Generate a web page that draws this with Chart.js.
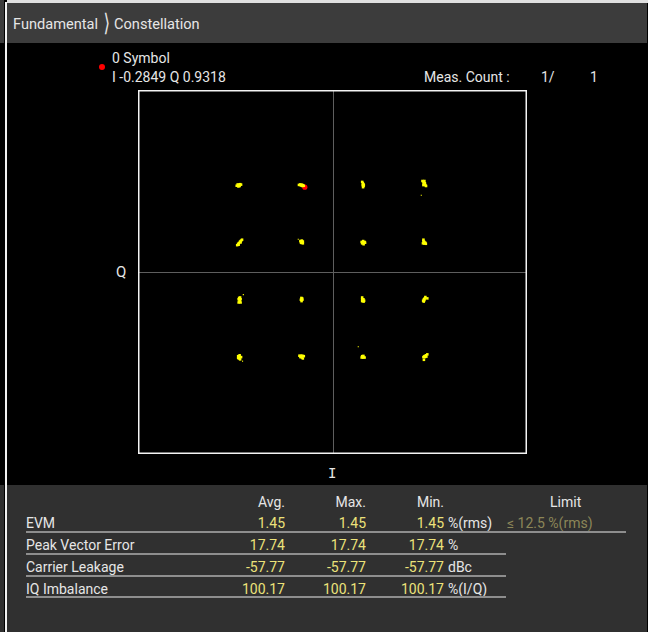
<!DOCTYPE html>
<html lang="en">
<head>
  <meta charset="UTF-8" />
  <title>Constellation</title>
  <script src="https://cdn.jsdelivr.net/npm/chart.js"></script>
  <style>
    * {
      margin: 0;
      padding: 0;
      box-sizing: border-box;
    }

    body {
      width: 648px;
      height: 632px;
      overflow: hidden;
      position: relative;
      background: #000;
      color: #e6e6e6;
      font-family: Roboto, 'Noto Sans', sans-serif;
      font-size: 14px;
    }

    .abs {
      position: absolute;
      white-space: nowrap;
      line-height: 16px;
    }

    .strip-top { left: 0; top: 0; width: 4px; height: 43px; background: #3c3c3c; }
    .strip-bot { left: 0; top: 485px; width: 4px; height: 147px; background: #303030; }
    .edge { left: 5px; top: 2px; width: 2px; height: 630px; background: #f2f2f2; }
    .topline { left: 7px; top: 0; width: 641px; height: 3px; background: #e0e0e0; }
    header { position: absolute; left: 7px; top: 3px; width: 640px; height: 40px; background: #3c3c3c; }
    .panel { position: absolute; left: 7px; top: 485px; width: 640px; height: 147px; background: #303030; }

    #iq { position: absolute; left: 0; top: 0; z-index: 2; }

    .val { color: #ece27a; }
    .lim { color: #8c8658; }
    .rule { position: absolute; height: 2px; background: #8e8e8e; }
    .dot { position: absolute; left: 99px; top: 64px; width: 6px; height: 6px; border-radius: 50%; background: #ff0000; }
  </style>
</head>
<body>

  <div class="abs strip-top"></div>
  <div class="abs strip-bot"></div>
  <div class="abs topline"></div>
  <header></header>
  <div class="panel"></div>
  <div class="abs edge"></div>

  <!-- breadcrumb -->
  <div class="abs" style="left:13px; top:16px; font-size:14.6px;">Fundamental</div>
  <div class="abs" style="left:102px; top:10px; font-size:24px; line-height:26px; font-family:'DejaVu Sans'; transform:scaleX(0.7);">&#10217;</div>
  <div class="abs" style="left:114px; top:16px; font-size:14.6px;">Constellation</div>

  <!-- marker readout -->
  <div class="dot"></div>
  <div class="abs" style="left:112px; top:50px;">0 Symbol</div>
  <div class="abs" id="markerText" style="left:112px; top:69px;"></div>
  <div class="abs" style="left:424px; top:69px;">Meas. Count :</div>
  <div class="abs" style="left:541px; top:69px;">1/</div>
  <div class="abs" style="left:590px; top:69px;">1</div>

  <div class="abs" style="left:116px; top:264px; font-size:15px;">Q</div>
  <div class="abs" style="left:328px; top:465px; font-size:14px; font-family:'DejaVu Sans Mono';">I</div>

  <div id="table"></div>

  <canvas id="iq" width="648" height="632"></canvas>

  <script>
    // symbol clusters, [I, Q]
    const row1Points = [
      [-0.985, 0.948], [-0.975, 0.962], [-0.962, 0.958], [-0.950, 0.965], [-0.940, 0.960], [-0.955, 0.945], [-0.968, 0.940],
      [-0.345, 0.957], [-0.332, 0.962], [-0.318, 0.960], [-0.305, 0.955], [-0.325, 0.950], [-0.295, 0.948], [-0.310, 0.945],
      [0.305, 0.990], [0.312, 0.978], [0.318, 0.965], [0.310, 0.955], [0.320, 0.945], [0.314, 0.932], [0.322, 0.955],
      [0.925, 1.000], [0.945, 1.000], [0.935, 0.985], [0.950, 0.975], [0.940, 0.965], [0.955, 0.955], [0.962, 0.945], [0.935, 0.955]
    ];
    const row2Points = [
      [-0.980, 0.295], [-0.970, 0.310], [-0.960, 0.320], [-0.950, 0.335], [-0.940, 0.345], [-0.930, 0.355], [-0.965, 0.300], [-0.945, 0.325],
      [-0.330, 0.340], [-0.315, 0.345], [-0.305, 0.335], [-0.320, 0.320], [-0.305, 0.315], [-0.325, 0.325],
      [0.300, 0.330], [0.315, 0.340], [0.330, 0.330], [0.315, 0.320], [0.320, 0.305], [0.305, 0.315], [0.335, 0.322],
      [0.935, 0.355], [0.935, 0.340], [0.945, 0.330], [0.955, 0.320], [0.930, 0.315], [0.960, 0.310], [0.945, 0.312]
    ];
    const row3Points = [
      [-0.960, -0.285], [-0.950, -0.280], [-0.965, -0.300], [-0.945, -0.300], [-0.955, -0.315], [-0.965, -0.335], [-0.945, -0.335], [-0.955, -0.325],
      [-0.320, -0.285], [-0.312, -0.290], [-0.325, -0.305], [-0.310, -0.305], [-0.318, -0.320],
      [0.305, -0.280], [0.305, -0.300], [0.305, -0.320], [0.318, -0.300], [0.325, -0.315], [0.320, -0.325],
      [0.955, -0.275], [0.948, -0.290], [0.940, -0.300], [0.932, -0.315], [0.945, -0.310], [0.938, -0.325], [0.975, -0.290]
    ];
    const row4Points = [
      [-0.970, -0.925], [-0.955, -0.915], [-0.955, -0.935], [-0.940, -0.935], [-0.960, -0.950], [-0.950, -0.960], [-0.970, -0.945],
      [-0.340, -0.920], [-0.325, -0.920], [-0.310, -0.920], [-0.295, -0.925], [-0.330, -0.935], [-0.315, -0.940], [-0.305, -0.950],
      [0.305, -0.925], [0.318, -0.922], [0.300, -0.940], [0.315, -0.940], [0.330, -0.940],
      [0.975, -0.905], [0.960, -0.915], [0.945, -0.925], [0.935, -0.935], [0.950, -0.935], [0.965, -0.930], [0.940, -0.965]
    ];
    const strayPoints = [[0.913, 0.843], [-0.352, 0.360], [-0.917, -0.249], [-0.925, -0.980], [0.265, -0.821]];
    const markerPoint = [-0.2849, 0.9318];
    const axisRange = [-2, 2];

    // result table
    const metricNames = ['EVM', 'Peak Vector Error', 'Carrier Leakage', 'IQ Imbalance'];
    const avgValues = ['1.45', '17.74', '-57.77', '100.17'];
    const maxValues = ['1.45', '17.74', '-57.77', '100.17'];
    const minValues = ['1.45', '17.74', '-57.77', '100.17'];
    const unitLabels = ['%(rms)', '%', 'dBc', '%(I/Q)'];
    const limitLabels = ['\u2264 12.5 %(rms)', '', '', ''];
    const columnHeads = ['Avg.', 'Max.', 'Min.'];

    document.getElementById('markerText').textContent =
      'I ' + markerPoint[0].toFixed(4) + ' Q ' + markerPoint[1].toFixed(4);

    // build table
    const tbl = document.getElementById('table');
    function put(html, style, cls) {
      const d = document.createElement('div');
      d.className = 'abs ' + (cls || '');
      d.style.cssText = style;
      d.textContent = html;
      tbl.appendChild(d);
    }
    const colRight = [285, 366, 444];
    columnHeads.forEach((h, i) => put(h, `right:${648 - colRight[i]}px; top:494px;`));
    put('Limit', 'left:550px; top:494px;');

    const rowY = [523, 545, 567, 589];
    const ruleY = [531, 553, 575, 596];
    metricNames.forEach((name, r) => {
      const top = rowY[r] - 8;
      put(name, `left:26px; top:${top}px;`);
      put(avgValues[r], `right:${648 - colRight[0]}px; top:${top}px;`, 'val');
      put(maxValues[r], `right:${648 - colRight[1]}px; top:${top}px;`, 'val');
      put(minValues[r], `right:${648 - colRight[2]}px; top:${top}px;`, 'val');
      put(unitLabels[r], `left:448px; top:${top}px;`);
      if (limitLabels[r]) put(limitLabels[r], `left:507px; top:${top}px;`, 'lim');
      const rule = document.createElement('div');
      rule.className = 'rule';
      rule.style.cssText = `left:26px; top:${ruleY[r]}px; width:${r === 0 ? 600 : 480}px;`;
      tbl.appendChild(rule);
    });

    const toXY = arr => arr.map(p => ({ x: p[0], y: p[1] }));

    const frame = {
      id: 'frame',
      beforeDatasetsDraw(chart) {
        const { ctx, chartArea: a, scales } = chart;
        const x0 = Math.round(scales.x.getPixelForValue(0)) + 0.5;
        const y0 = Math.round(scales.y.getPixelForValue(0)) + 0.5;
        ctx.save();
        ctx.strokeStyle = '#5e5e5e';
        ctx.lineWidth = 1;
        ctx.beginPath();
        ctx.moveTo(x0, a.top); ctx.lineTo(x0, a.bottom);
        ctx.moveTo(a.left, y0); ctx.lineTo(a.right, y0);
        ctx.stroke();
        ctx.strokeStyle = '#f4f4f4';
        ctx.lineWidth = 1.5;
        ctx.strokeRect(a.left + 0.75, a.top + 0.75, a.right - a.left - 1.5, a.bottom - a.top - 1.5);
        ctx.restore();
      }
    };

    const yellow = {
      backgroundColor: '#ffff00',
      borderWidth: 0,
      pointStyle: 'rect',
      pointRadius: 1.8
    };

    new Chart(document.getElementById('iq'), {
      type: 'scatter',
      data: {
        datasets: [
          Object.assign({ label: 'row1', data: toXY(row1Points) }, yellow),
          Object.assign({ label: 'row2', data: toXY(row2Points) }, yellow),
          Object.assign({ label: 'row3', data: toXY(row3Points) }, yellow),
          Object.assign({ label: 'row4', data: toXY(row4Points) }, yellow),
          Object.assign({ label: 'stray', data: toXY(strayPoints) }, yellow, { pointRadius: 0.8 }),
          {
            label: 'marker',
            data: toXY([markerPoint]),
            backgroundColor: '#ff0000',
            borderWidth: 0,
            pointRadius: 2.6
          }
        ]
      },
      options: {
        responsive: false,
        animation: false,
        devicePixelRatio: 1,
        layout: { padding: { left: 138, top: 90, right: 121, bottom: 178 } },
        plugins: { legend: { display: false }, tooltip: { enabled: false } },
        events: [],
        scales: {
          x: { type: 'linear', min: axisRange[0], max: axisRange[1], display: false },
          y: { type: 'linear', min: axisRange[0], max: axisRange[1], display: false }
        }
      },
      plugins: [frame]
    });
  </script>
</body>
</html>
